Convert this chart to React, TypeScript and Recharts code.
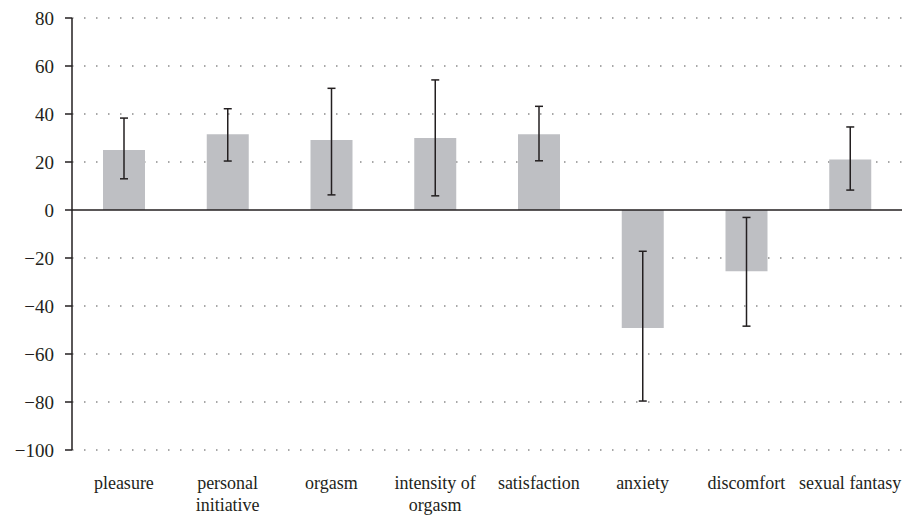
import { Bar, BarChart, CartesianGrid, ErrorBar, ReferenceLine, XAxis, YAxis } from "recharts"

const categories = [
    "pleasure",
    "personal\ninitiative",
    "orgasm",
    "intensity of\norgasm",
    "satisfaction",
    "anxiety",
    "discomfort",
    "sexual fantasy",
]
const means = [25, 31.6, 29.2, 30, 31.6, -49.2, -25.5, 21]
const errLow = [12, 11.2, 22.9, 24.1, 11.1, 30.4, 22.9, 12.7]
const errHigh = [13.3, 10.6, 21.5, 24.2, 11.6, 32, 22.4, 13.6]
const yTicks = [-100, -80, -60, -40, -20, 0, 20, 40, 60, 80]

const data = categories.map((name, i) => ({
    name,
    value: means[i],
    err: [errLow[i], errHigh[i]],
}))

const ink = "#231f20"
const font = "'Liberation Serif', 'Times New Roman', serif"

function CategoryTick(props: any) {
    const { x, y, payload } = props
    const lines = String(payload.value).split("\n")
    return (
        <text x={x} y={y} textAnchor="middle" fill={ink} fontFamily={font} fontSize={18}>
            {lines.map((line, i) => (
                <tspan key={i} x={x} dy={i === 0 ? 31 : 22}>{line}</tspan>
            ))}
        </text>
    )
}

const formatY = (v: number) => (v < 0 ? `\u2212${-v}` : `${v}`)

export default function App() {
    return (
        <div style={{ width: 903, height: 517, background: "#fff" }}>
            <style>{`body { margin: 0; }`}</style>
            <BarChart
                width={903}
                height={517}
                data={data}
                margin={{ top: 18, right: 1, bottom: 37, left: 0 }}
                barSize={42}
            >
                <CartesianGrid
                    vertical={false}
                    horizontalValues={yTicks.filter(t => t !== 0)}
                    stroke="#8a8a8a"
                    strokeWidth={1.5}
                    strokeDasharray="1.5 10.5"
                />
                <XAxis
                    dataKey="name"
                    axisLine={false}
                    tickLine={false}
                    interval={0}
                    tick={<CategoryTick />}
                />
                <YAxis
                    width={72}
                    domain={[-100, 80]}
                    ticks={yTicks}
                    interval={0}
                    tickFormatter={formatY}
                    axisLine={{ stroke: ink, strokeWidth: 1.5 }}
                    tickLine={{ stroke: ink, strokeWidth: 1.5 }}
                    tickSize={7}
                    tickMargin={11}
                    tick={{ fill: ink, fontFamily: font, fontSize: 19 }}
                />
                <Bar dataKey="value" fill="#bebfc3" isAnimationActive={false}>
                    <ErrorBar dataKey="err" width={4} stroke={ink} strokeWidth={1.5} direction="y" />
                </Bar>
                <ReferenceLine y={0} stroke={ink} strokeWidth={1.5} />
            </BarChart>
        </div>
    )
}
